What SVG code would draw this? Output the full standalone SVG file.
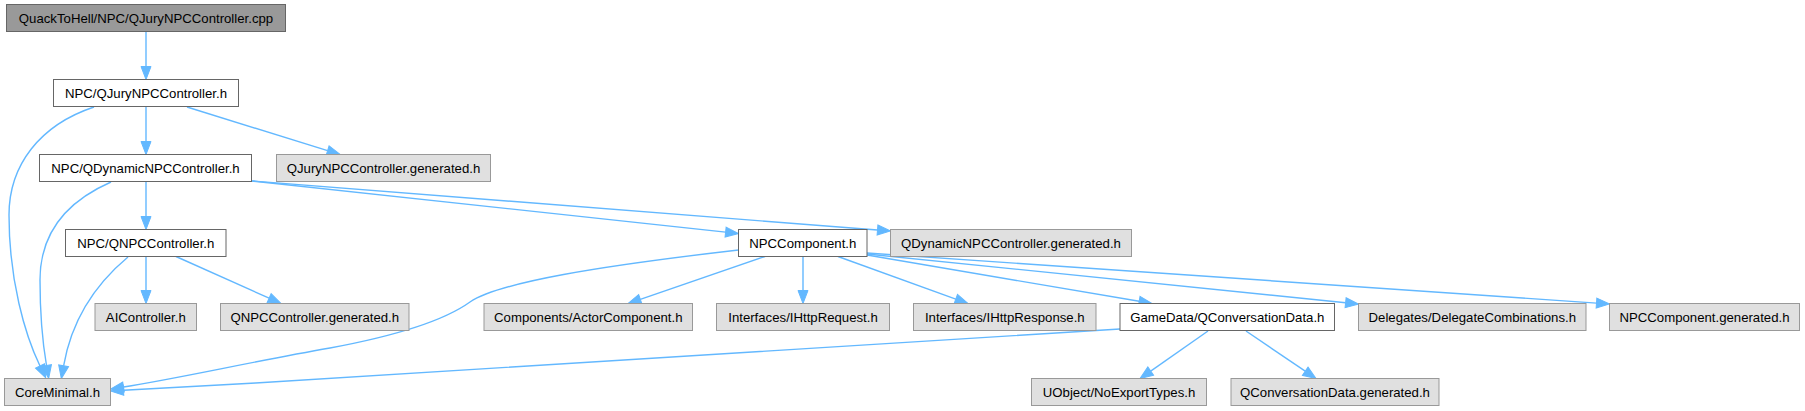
<svg xmlns="http://www.w3.org/2000/svg" width="1805" height="411" viewBox="0 0 1805 411">
<style>
.n rect{fill:#ffffff;stroke:#666666;stroke-width:1}
.n.g rect{fill:#e0e0e0;stroke:#999999}
.n.r rect{fill:#999999;stroke:#666666}
.n text{font-family:"Liberation Sans",Arial,sans-serif;font-size:13.2px;fill:#000000;text-anchor:middle}
#edges path{fill:none;stroke:#63b8ff;stroke-width:1.4;marker-end:url(#ah)}
</style>
<defs>
<marker id="ah" markerUnits="userSpaceOnUse" markerWidth="14" markerHeight="12" refX="0" refY="5" orient="auto" overflow="visible">
<path d="M0,0 L13,5 L0,10 z" fill="#63b8ff" stroke="#63b8ff" stroke-width="1"/>
</marker>
</defs>
<rect width="1805" height="411" fill="#ffffff"/>
<g id="edges">
<path d="M146,32 V66.5"/>
<path d="M146,107 V141.5"/>
<path d="M146,182 V216.5"/>
<path d="M146,257 V290.5"/>
<path d="M187,107 L327.6,150.6"/>
<path d="M176,256.5 L269.1,298.2"/>
<path d="M94,107 C40,125 9,165 9,215 C9,280 25,335 40,366"/>
<path d="M111,182 C70,200 40,230 40,280 C40,320 43,345 46.5,365.5"/>
<path d="M128,257 C98,282 72,318 63.6,365.8"/>
<path d="M252,181 L725.6,232.1"/>
<path d="M252,181 L877.5,230"/>
<path d="M738.5,250 C600,266 500,282 470,302 C445,320 400,335 330,348 C250,362 180,378 123.5,387"/>
<path d="M765,256.5 L640.3,299.3"/>
<path d="M803,256.5 V290.5"/>
<path d="M838,256.5 L955.8,299.1"/>
<path d="M867,255 L1139.2,301.3"/>
<path d="M867,254 L1345.6,302.7"/>
<path d="M867,253 L1596.5,303.1"/>
<path d="M1120,329 C900,345 500,370 123.5,390.2"/>
<path d="M1208,331 L1150.7,371.1"/>
<path d="M1246,331 L1305.2,371.2"/>
</g>
<g id="n_cpp" class="n r"><rect x="6.5" y="4.5" width="279" height="27"/><text x="146" y="22.8">QuackToHell/NPC/QJuryNPCController.cpp</text></g>
<g id="n_qjury" class="n"><rect x="53.5" y="79.5" width="185" height="27"/><text x="146" y="97.8">NPC/QJuryNPCController.h</text></g>
<g id="n_qdyn" class="n"><rect x="39.5" y="154.5" width="212" height="27"/><text x="145.5" y="172.8">NPC/QDynamicNPCController.h</text></g>
<g id="n_qjurygen" class="n g"><rect x="276.5" y="154.5" width="214" height="27"/><text x="383.5" y="172.8">QJuryNPCController.generated.h</text></g>
<g id="n_qnpc" class="n"><rect x="65.5" y="229.5" width="160.5" height="27"/><text x="145.8" y="247.8">NPC/QNPCController.h</text></g>
<g id="n_ai" class="n g"><rect x="95" y="303.5" width="101.5" height="27"/><text x="145.8" y="321.8">AIController.h</text></g>
<g id="n_qnpcgen" class="n g"><rect x="220.5" y="303.5" width="188.5" height="27"/><text x="314.8" y="321.8">QNPCController.generated.h</text></g>
<g id="n_core" class="n g"><rect x="4.5" y="378.5" width="106" height="27"/><text x="57.5" y="396.8">CoreMinimal.h</text></g>
<g id="n_npccomp" class="n"><rect x="738.5" y="229.5" width="128.5" height="27"/><text x="802.8" y="247.8">NPCComponent.h</text></g>
<g id="n_qdyngen" class="n g"><rect x="890.5" y="229.5" width="241" height="27"/><text x="1011" y="247.8">QDynamicNPCController.generated.h</text></g>
<g id="n_actor" class="n g"><rect x="484" y="303.5" width="208.5" height="27"/><text x="588.3" y="321.8">Components/ActorComponent.h</text></g>
<g id="n_req" class="n g"><rect x="716.5" y="303.5" width="173" height="27"/><text x="803" y="321.8">Interfaces/IHttpRequest.h</text></g>
<g id="n_resp" class="n g"><rect x="913.5" y="303.5" width="182.5" height="27"/><text x="1004.8" y="321.8">Interfaces/IHttpResponse.h</text></g>
<g id="n_conv" class="n"><rect x="1120" y="303.5" width="214.5" height="27"/><text x="1227.3" y="321.8">GameData/QConversationData.h</text></g>
<g id="n_deleg" class="n g"><rect x="1358.5" y="303.5" width="227.5" height="27"/><text x="1472.3" y="321.8">Delegates/DelegateCombinations.h</text></g>
<g id="n_npccompgen" class="n g"><rect x="1609.5" y="303.5" width="190" height="27"/><text x="1704.5" y="321.8">NPCComponent.generated.h</text></g>
<g id="n_uobj" class="n g"><rect x="1031.5" y="378.5" width="175" height="27"/><text x="1119" y="396.8">UObject/NoExportTypes.h</text></g>
<g id="n_convgen" class="n g"><rect x="1231" y="378.5" width="208" height="27"/><text x="1335" y="396.8">QConversationData.generated.h</text></g>
</svg>
